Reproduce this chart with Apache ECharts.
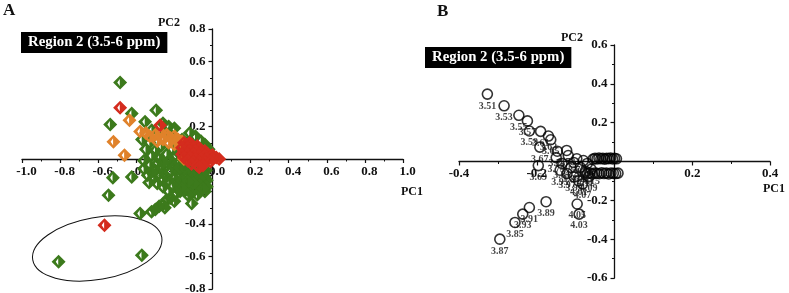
<!DOCTYPE html>
<html><head><meta charset="utf-8">
<script src="https://cdn.jsdelivr.net/npm/echarts@6/dist/echarts.min.js"></script>
<style>html,body{margin:0;padding:0;background:#fff}#c{width:789px;height:293px}</style>
</head><body><div id="c"></div>
<script>
// ---- Panel A: PCA scores (PC1, PC2) ----
var scoresGreen = [
[-0.485,0.471],[-0.424,0.28],[-0.296,0.30],[-0.537,0.212],[-0.354,0.229],[-0.319,0.177],[-0.26,0.22],[-0.23,0.20],[-0.20,0.19],[-0.245,0.16],
[-0.12,0.16],[-0.09,0.14],[-0.06,0.11],[-0.04,0.09],[-0.02,0.06],[-0.16,0.12],[-0.13,0.10],[-0.10,0.08],[-0.18,0.04],[-0.14,0.0],
[-0.37,0.12],[-0.33,0.10],[-0.35,0.06],[-0.30,0.05],[-0.27,0.08],[-0.32,0.02],[-0.28,0.00],[-0.24,0.03],[-0.36,-0.01],[-0.21,0.06],[-0.19,0.02],[-0.23,-0.01],
[-0.36,-0.06],[-0.33,-0.04],[-0.30,-0.07],[-0.27,-0.05],[-0.24,-0.04],[-0.21,-0.03],[-0.18,-0.02],[-0.15,-0.04],[-0.12,-0.03],[-0.09,-0.05],[-0.06,-0.06],[-0.035,-0.07],
[-0.34,-0.10],[-0.31,-0.12],[-0.28,-0.09],[-0.25,-0.10],[-0.22,-0.08],[-0.19,-0.07],[-0.16,-0.08],[-0.13,-0.07],[-0.10,-0.09],[-0.07,-0.10],[-0.04,-0.11],[-0.03,-0.13],
[-0.29,-0.15],[-0.26,-0.17],[-0.23,-0.13],[-0.20,-0.12],[-0.17,-0.11],[-0.14,-0.12],[-0.11,-0.13],[-0.08,-0.14],[-0.05,-0.15],[-0.03,-0.17],
[-0.21,-0.17],[-0.18,-0.16],[-0.15,-0.15],[-0.12,-0.17],[-0.09,-0.18],[-0.06,-0.19],[-0.04,-0.20],
[-0.17,-0.20],[-0.14,-0.19],[-0.11,-0.21],[-0.08,-0.22],
[-0.32,-0.08],[-0.29,-0.03],[-0.26,-0.02],[-0.20,-0.05],[-0.17,-0.05],[-0.14,-0.06],[-0.11,-0.06],[-0.08,-0.07],[-0.05,-0.09],
[-0.13,-0.10],[-0.10,-0.11],[-0.07,-0.12],[-0.19,-0.14],[-0.16,-0.13],[-0.07,-0.16],[-0.10,-0.15],[-0.13,-0.14],[-0.05,-0.18],[-0.16,-0.18],
[-0.19,-0.21],[-0.13,-0.22],[-0.23,-0.20],
[-0.22,-0.24],[-0.24,-0.25],[-0.26,-0.28],[-0.28,-0.29],[-0.30,-0.31],[-0.32,-0.325],[-0.38,-0.335],[-0.25,-0.30],[-0.20,-0.26],
[-0.523,-0.116],[-0.424,-0.11],[-0.546,-0.223],[-0.333,-0.145],[-0.261,-0.13],[-0.109,-0.274],[-0.808,-0.633],[-0.371,-0.592]
];
var scoresOrange = [
[-0.52,0.106],[-0.462,0.023],[-0.436,0.239],[-0.38,0.17],[-0.35,0.16],[-0.33,0.14],[-0.30,0.15],[-0.27,0.16],[-0.24,0.15],[-0.22,0.13],
[-0.20,0.14],[-0.18,0.12],[-0.26,0.12],[-0.23,0.10],[-0.20,0.09],[-0.17,0.08],[-0.16,0.11],[-0.29,0.11],[-0.14,0.04],[-0.15,0.0]
];
var scoresRed = [
[-0.485,0.315],[-0.275,0.208],[-0.567,-0.407],
[-0.15,0.10],[-0.12,0.10],[-0.14,0.09],[-0.11,0.09],[-0.08,0.08],
[-0.16,0.07],[-0.13,0.07],[-0.10,0.07],[-0.07,0.06],[-0.04,0.05],
[-0.15,0.05],[-0.12,0.05],[-0.09,0.05],[-0.06,0.04],[-0.03,0.035],[0.0,0.025],
[-0.16,0.03],[-0.13,0.03],[-0.10,0.03],[-0.07,0.02],[-0.04,0.02],[-0.01,0.015],[0.02,0.01],
[-0.15,0.01],[-0.12,0.01],[-0.09,0.0],[-0.06,0.0],[-0.03,0.0],[0.0,0.0],[0.035,0.0],
[-0.13,-0.01],[-0.10,-0.02],[-0.07,-0.02],[-0.04,-0.02],[-0.01,-0.015],
[-0.11,-0.03],[-0.08,-0.04],[-0.05,-0.04],[-0.07,-0.05]
];
var xTicksA = {min:-1.0, max:1.0, step:0.2};
var yTicksA = {min:-0.8, max:0.8, step:0.2};

// ---- Panel B: loadings ----
var ppmB = ['3.51','3.53','3.55','3.57','3.59','3.61','3.63','3.65','3.67','3.69','3.71','3.73','3.75','3.77','3.79','3.81','3.83','3.85','3.87','3.89',
'3.91','3.93','3.95','3.97','3.99','4.01','4.03','4.05','4.07','4.09','4.11','4.13','4.15','4.17','4.19','4.21',
'4.23','4.25','4.27','4.29','4.31','4.33','4.35','4.37','4.39','4.41','4.43','4.45','4.47',
'4.49','4.51','4.53','4.55','4.57','4.59','4.61','4.63','4.65','4.67','4.69','4.71','4.73','4.75','4.77'];
var pc1B = [-0.327,-0.284,-0.246,-0.224,-0.219,-0.190,-0.170,-0.164,-0.192,-0.196,-0.147,-0.123,-0.119,-0.097,-0.150,-0.135,-0.112,-0.256,-0.295,-0.176,
-0.219,-0.236,-0.140,-0.122,-0.104,-0.092,-0.091,-0.096,-0.082,-0.066,-0.075,-0.088,-0.060,-0.070,-0.080,-0.105,
-0.055,-0.050,-0.045,-0.040,-0.035,-0.030,-0.025,-0.020,-0.015,-0.010,-0.005,0.000,0.005,
-0.075,-0.069,-0.063,-0.057,-0.051,-0.045,-0.039,-0.033,-0.027,-0.021,-0.015,-0.009,-0.003,0.003,0.009];
var pc2B = [0.347,0.287,0.238,0.209,0.157,0.155,0.131,0.112,0.074,-0.021,0.053,0.057,0.031,0.014,0.020,-0.010,-0.030,-0.314,-0.400,-0.207,
-0.237,-0.271,-0.045,-0.062,-0.080,-0.100,-0.271,-0.219,-0.115,-0.078,-0.050,-0.030,-0.040,-0.010,0.005,-0.005,
0.012,0.016,0.013,0.018,0.014,0.017,0.012,0.016,0.015,0.018,0.013,0.016,0.014,
-0.058,-0.062,-0.060,-0.064,-0.059,-0.061,-0.063,-0.058,-0.062,-0.060,-0.064,-0.059,-0.061,-0.062,-0.060];
var labelledCountB = 36;
var xTicksB = {min:-0.4, max:0.4, step:0.2};
var yTicksB = {min:-0.6, max:0.6, step:0.2};

var FONT = '"Liberation Serif","Times New Roman",serif';
var diamond = 'path://M10,0 L20,10 L10,20 L0,10 Z M9.5,5 L6,10 L9.5,15 Z';
var gridA = {left:22, top:29, width:381, height:260};
var gridB = {left:459, top:45, width:311, height:233};

// axis placed through the zero of the other axis via offset
function axis(gi, t, isX, other, size, shift, hideZero) {
  var frac = (0 - other.min) / (other.max - other.min);
  return {
    type:'value', gridIndex:gi, min:t.min, max:t.max, interval:t.step,
    position: isX ? 'bottom' : 'left',
    offset: -frac * size,
    axisLine:{show:true, onZero:false, lineStyle:{color:'#111', width:1.3}},
    axisTick:{show:true, inside:false, length:4, lineStyle:{color:'#111', width:1.2}},
    minorTick:{show:true, splitNumber:2, length:2.5, lineStyle:{color:'#111', width:1}},
    splitLine:{show:false},
    axisLabel:{fontFamily:FONT, fontWeight:'bold', fontSize:13, color:'#111', margin: isX?6:7,
      padding: shift?[0,0,0,shift]:0,
      formatter:function(v){ if (hideZero && Math.abs(v)<1e-9) return ''; return (Math.abs(v)<1e-9?0:v).toFixed(1); }}
  };
}

var chart = echarts.init(document.getElementById('c'), null, {renderer:'canvas'});
var bData = ppmB.map(function(p,i){
  return {name:p, value:[pc1B[i], pc2B[i]], label:{show: i<labelledCountB}};
});
function sA(data,color){
  return {type:'scatter', xAxisIndex:0, yAxisIndex:0, data:data, symbol:diamond, symbolSize:14,
    itemStyle:{color:color, opacity:1}, silent:true};
}
chart.setOption({
  animation:false,
  grid:[Object.assign({outerBoundsMode:'none', containLabel:false}, gridA),
        Object.assign({outerBoundsMode:'none', containLabel:false}, gridB)],
  xAxis:[axis(0,xTicksA,true,yTicksA,gridA.height,9,false), axis(1,xTicksB,true,yTicksB,gridB.height,0,true)],
  yAxis:[axis(0,yTicksA,false,xTicksA,gridA.width,0,true), axis(1,yTicksB,false,xTicksB,gridB.width,0,true)],
  title:[
    {text:'Region 2 (3.5-6 ppm)', left:21, top:32, backgroundColor:'#000', padding:[3,7,3,7],
      textStyle:{color:'#fff', fontFamily:FONT, fontWeight:'bold', fontSize:14.8}},
    {text:'Region 2 (3.5-6 ppm)', left:425, top:47, backgroundColor:'#000', padding:[3,7,3,7],
      textStyle:{color:'#fff', fontFamily:FONT, fontWeight:'bold', fontSize:14.8}}
  ],
  series:[
    sA(scoresGreen,'#3c7a1c'),
    sA(scoresOrange,'#e0822a'),
    sA(scoresRed,'#d42c1e'),
    {type:'scatter', xAxisIndex:1, yAxisIndex:1, data:bData, symbol:'circle', symbolSize:10,
      itemStyle:{color:'rgba(255,255,255,0)', borderColor:'#000', borderWidth:1.6}, silent:true,
      label:{position:'bottom', distance:1, formatter:'{b}', fontFamily:FONT, fontWeight:'bold', fontSize:10, color:'#111'}}
  ]
});
var c = chart.convertToPixel({xAxisIndex:0, yAxisIndex:0}, [-0.605,-0.551]);
chart.setOption({graphic:[
  {type:'text', left:3, top:2, style:{text:'A', font:'bold 17px '+FONT, fill:'#111'}},
  {type:'text', left:437, top:3, style:{text:'B', font:'bold 17px '+FONT, fill:'#111'}},
  {type:'text', left:158, top:17, style:{text:'PC2', font:'bold 12px '+FONT, fill:'#111'}},
  {type:'text', left:401, top:186, style:{text:'PC1', font:'bold 12px '+FONT, fill:'#111'}},
  {type:'text', left:561, top:32, style:{text:'PC2', font:'bold 12px '+FONT, fill:'#111'}},
  {type:'text', left:763, top:183, style:{text:'PC1', font:'bold 12px '+FONT, fill:'#111'}},
  {type:'ellipse', x:c[0], y:c[1], rotation:10*Math.PI/180, shape:{cx:0, cy:0, rx:65.5, ry:31},
    style:{fill:'none', stroke:'#111', lineWidth:1}, silent:true}
]});
</script></body></html>
